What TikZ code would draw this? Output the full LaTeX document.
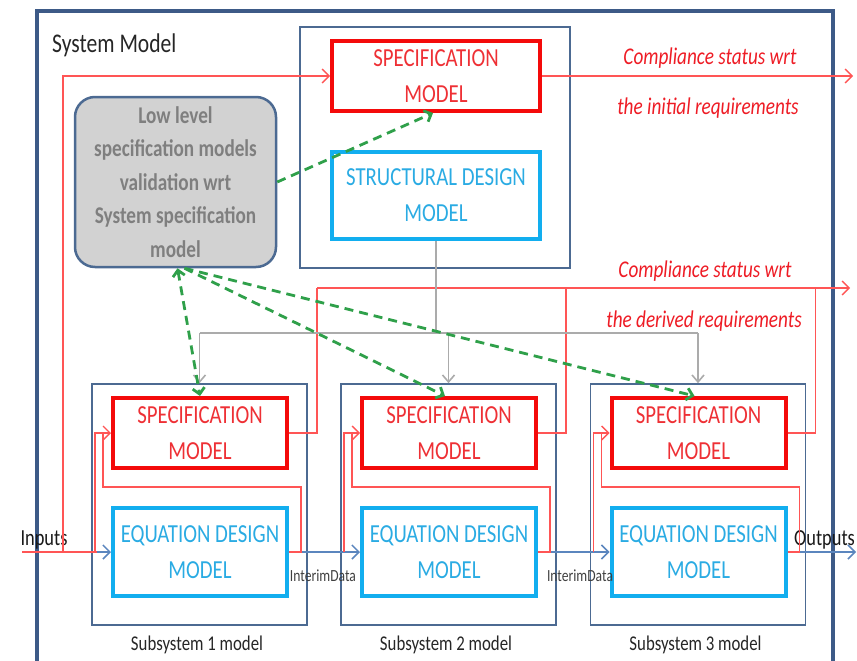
\documentclass[tikz,border=0pt]{standalone}
\usepackage{fontspec}
\setmainfont{Carlito}[FakeStretch=0.8]
\usetikzlibrary{arrows.meta,calc}

\definecolor{framec}{HTML}{3D5A87}
\definecolor{contc}{HTML}{4C6A92}
\definecolor{specred}{HTML}{F40A0A}
\definecolor{spectext}{HTML}{EE3035}
\definecolor{notered}{HTML}{EE1C25}
\definecolor{designc}{HTML}{12AEEF}
\definecolor{designtext}{HTML}{2AABE3}
\definecolor{lowfill}{HTML}{D2D2D2}
\definecolor{lowtext}{HTML}{7F7F7F}
\definecolor{thinred}{HTML}{FF5555}
\definecolor{flowblue}{HTML}{5B86BE}
\definecolor{treegray}{HTML}{ABABAB}
\definecolor{checkgreen}{HTML}{2FA04A}

\tikzset{
  sysframe/.style={draw=framec, line width=3.2pt, inner sep=0pt},
  container/.style={draw=contc, line width=1.6pt, inner sep=0pt},
  boxlabel/.style={font=\fontsize{26}{36}\selectfont, align=center, inner sep=0pt},
  specbox/.style={boxlabel, draw=specred, line width=4pt, text=spectext},
  designbox/.style={boxlabel, draw=designc, line width=4pt, text=designtext},
  lowbox/.style={draw=contc, line width=2.5pt, fill=lowfill, rounded corners=20pt,
    text=lowtext, font=\fontsize{24}{33.5}\selectfont\bfseries, align=center, inner sep=0pt},
  note/.style={text=notered, font=\fontsize{24}{28}\selectfont\itshape, inner sep=0pt},
  caption/.style={text=black!85, font=\fontsize{21}{24}\selectfont, inner sep=0pt},
  iolabel/.style={text=black!90, font=\fontsize{23}{26}\selectfont, inner sep=0pt},
  smalllabel/.style={text=black!75, font=\fontsize{17}{20}\selectfont, inner sep=0pt},
  redthin/.style={draw=thinred, line width=1.3pt, -{Straight Barb[length=7pt,width=14pt]}},
  redplain/.style={draw=thinred, line width=1.3pt},
  bluearrow/.style={draw=flowblue, line width=1.5pt, -{Straight Barb[length=7pt,width=14pt]}},
  grayline/.style={draw=treegray, line width=1.6pt},
  grayarrow/.style={grayline, -{Straight Barb[length=7pt,width=12pt]}},
  greendash/.style={draw=checkgreen, line width=2.8pt, dash pattern=on 9pt off 6pt},
  greentip/.style={-{Straight Barb[length=6pt,width=12pt]}},
  greenboth/.style={{Straight Barb[length=6pt,width=12pt]}-{Straight Barb[length=6pt,width=12pt]}},
}

\begin{document}
\begin{tikzpicture}[x=1pt,y=-1pt]
\useasboundingbox (0,0) rectangle (857,661);
\clip (0,0) rectangle (857,661);

% system frame and title
\node[sysframe, minimum width=796pt, minimum height=700pt] (sys) at (435,361) {};
\node[anchor=west, text=black!85, font=\fontsize{27}{30}\selectfont, inner sep=0pt] (title) at (52,45) {System Model};

% system level models
\node[container, minimum width=270pt, minimum height=241pt] (top) at (435,147.5) {};
\node[specbox, minimum width=208pt, minimum height=70pt] (spec0) at (436,76) {SPECIFICATION\\MODEL};
\node[designbox, minimum width=208pt, minimum height=87pt] (struct) at (436,195.5) {STRUCTURAL DESIGN\\MODEL};
\node[lowbox, minimum width=201pt, minimum height=170pt] (low) at (175.5,182)
  {Low level\\specification models\\validation wrt\\System specification\\model};

% subsystems
\foreach \i/\dx in {1/0,2/249,3/498.5} {
  \node[container, minimum width=215pt, minimum height=241pt] (sub\i) at (199.5+\dx,504.5) {};
  \node[specbox, minimum width=174pt, minimum height=70pt] (spec\i) at (200+\dx,433) {SPECIFICATION\\MODEL};
  \node[designbox, minimum width=174pt, minimum height=88pt] (eq\i) at (200+\dx,552) {EQUATION DESIGN\\MODEL};
  \node[caption] (cap\i) at (197+\dx,645) {Subsystem \i\ model};
}

% compliance notes
\node[note] (ci1) at (710,58) {Compliance status wrt};
\node[note] (ci2) at (708,108) {the initial requirements};
\node[note] (cd1) at (705,271) {Compliance status wrt};
\node[note] (cd2) at (704,321) {the derived requirements};

% inputs, outputs, interim data
\node[iolabel] (inputs) at (44,540) {Inputs};
\node[iolabel, anchor=west] (outputs) at (794,540) {Outputs};
\node[smalllabel] (id1) at (323,576) {InterimData};
\node[smalllabel] (id2) at (580,576) {InterimData};

\coordinate (inL) at (22,552);
\coordinate (inA) at (63,552);
\coordinate (inB) at (97,552);
\coordinate (outR) at (856,552);
\coordinate (outI) at (853,76);
\coordinate (outD) at (850,288);
\coordinate (gsplit) at (436,333);

% data flow
\draw[bluearrow] (inL) -- (eq1.west);
\draw[bluearrow] (eq1.east) -- (eq2.west);
\draw[bluearrow] (eq2.east) -- (eq3.west);
\draw[bluearrow] (eq3.east) -- (outR);

% specification checks
\draw[redplain] (inL) -- (inB);
\draw[redthin] (inA) |- (spec0.west);
\draw[redthin] (spec0.east) -- (outI);
\foreach \i in {1,2,3} {
  \draw[redthin] ($(eq\i.west)+(-16,0)$) |- (spec\i.west);
  \draw[redplain] (eq\i.east) -- ++(12,0) |- ($(spec\i.west)+(-8,54)$) -- ($(spec\i.west)+(-8,0)$);
  \draw[redplain] (spec\i.east) -| ($(spec\i.east)+(28,-145)$);
}
\draw[redthin] ($(spec1.east)+(28,-145)$) -- (outD);

% structural decomposition
\draw[grayline] (struct.south) -- (gsplit);
\draw[grayline] (sub1.north |- gsplit) -- (sub3.north |- gsplit);
\foreach \i in {1,2,3} \draw[grayarrow] (sub\i.north |- gsplit) -- (sub\i.north);

% low level validation
\draw[greendash, greentip] (low.east) -- ([xshift=-3pt]spec0.south);
\draw[greendash, greenboth] ([xshift=2pt]low.south) -- (spec1.north);
\draw[greendash, greentip] ([xshift=9pt]low.south) -- ([xshift=-4pt]spec2.north);
\draw[greendash, greentip] ([xshift=9pt]low.south) -- ([xshift=-4pt]spec3.north);
\end{tikzpicture}
\end{document}
